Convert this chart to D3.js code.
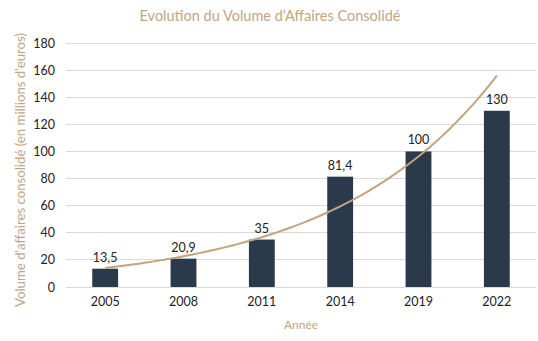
<!DOCTYPE html>
<html>
<head>
<meta charset="utf-8">
<script src="https://cdn.jsdelivr.net/npm/d3@7"></script>
<style>
  html, body { margin: 0; padding: 0; background: #fff; }
  svg { display: block; font-family: Lato, "Open Sans", sans-serif; }
</style>
</head>
<body>
<svg id="chart" width="538" height="341"></svg>
<script>
// Consolidated business volume (millions of euros) per year
const years = ["2005", "2008", "2011", "2014", "2019", "2022"];
const volumes = [13.5, 20.9, 35, 81.4, 100, 130];
const valueLabels = ["13,5", "20,9", "35", "81,4", "100", "130"];
const yTicks = [0, 20, 40, 60, 80, 100, 120, 140, 160, 180];

const tan = "#c4a47f";
const navy = "#2b3a4b";

const svg = d3.select("#chart");
const margin = { top: 43, right: 2, bottom: 54, left: 66 };
const W = 538, H = 341;

const x = d3.scaleBand().domain(years).range([margin.left, W - margin.right]).paddingInner(0.67).paddingOuter(0.335);
const y = d3.scaleLinear().domain([0, 180]).range([H - margin.bottom, margin.top]);

// Gridlines
svg.append("g").selectAll("line").data(yTicks).join("line")
  .attr("x1", margin.left).attr("x2", W - margin.right)
  .attr("y1", d => y(d)).attr("y2", d => y(d))
  .attr("stroke", "#d9d9d9").attr("stroke-width", 1).attr("shape-rendering", "crispEdges");

// Y axis labels
const yAxis = d3.axisLeft(y).tickValues(yTicks).tickSize(0).tickPadding(0);
svg.append("g").attr("transform", `translate(${margin.left - 11},0)`).call(yAxis)
  .call(g => g.select(".domain").remove())
  .call(g => g.selectAll("text").attr("font-size", 12.5).attr("fill", "#222").attr("font-family", "Lato, sans-serif"));

// Bars
svg.append("g").selectAll("rect").data(volumes).join("rect")
  .attr("x", (d, i) => x(years[i]))
  .attr("width", x.bandwidth())
  .attr("y", d => y(d))
  .attr("height", d => y(0) - y(d))
  .attr("fill", navy);

// Value labels
svg.append("g").selectAll("text").data(volumes).join("text")
  .attr("x", (d, i) => x(years[i]) + x.bandwidth() / 2)
  .attr("y", d => y(d) - 7)
  .attr("text-anchor", "middle").attr("font-size", 12.5).attr("fill", "#222")
  .text((d, i) => valueLabels[i]);

// X axis labels
const xAxis = d3.axisBottom(x).tickSize(0).tickPadding(10);
svg.append("g").attr("transform", `translate(0,${y(0)})`).call(xAxis)
  .call(g => g.select(".domain").remove())
  .call(g => g.selectAll("text").attr("font-size", 12.5).attr("fill", "#222").attr("font-family", "Lato, sans-serif"));

// Exponential trend line fitted on ln(value) against category index
const idx = volumes.map((d, i) => i + 1);
const lnV = volumes.map(Math.log);
const mx = d3.mean(idx), my = d3.mean(lnV);
const slope = d3.sum(idx, (v, i) => (v - mx) * (lnV[i] - my)) / d3.sum(idx, v => (v - mx) ** 2);
const intercept = my - slope * mx;
const step = x.step();
const x0 = x(years[0]) + x.bandwidth() / 2;
const trendPts = d3.range(1, 6.001, 0.05).map(t => [x0 + (t - 1) * step, y(Math.exp(intercept + slope * t))]);
svg.append("path").datum(trendPts)
  .attr("d", d3.line().curve(d3.curveLinear))
  .attr("fill", "none").attr("stroke", tan).attr("stroke-width", 2);

// Title
svg.append("text").attr("x", 270).attr("y", 21).attr("text-anchor", "middle")
  .attr("font-size", 14.5).attr("fill", tan).text("Evolution du Volume d'Affaires Consolidé");

// Axis titles
svg.append("text").attr("x", (margin.left + W - margin.right) / 2).attr("y", 329)
  .attr("text-anchor", "middle").attr("font-size", 12).attr("fill", tan).text("Année");
svg.append("text").attr("transform", `translate(25,${(margin.top + H - margin.bottom) / 2 + 5}) rotate(-90)`)
  .attr("text-anchor", "middle").attr("font-size", 13.2).attr("fill", tan)
  .text("Volume d'affaires consolidé (en millions d'euros)");
</script>
</body>
</html>
